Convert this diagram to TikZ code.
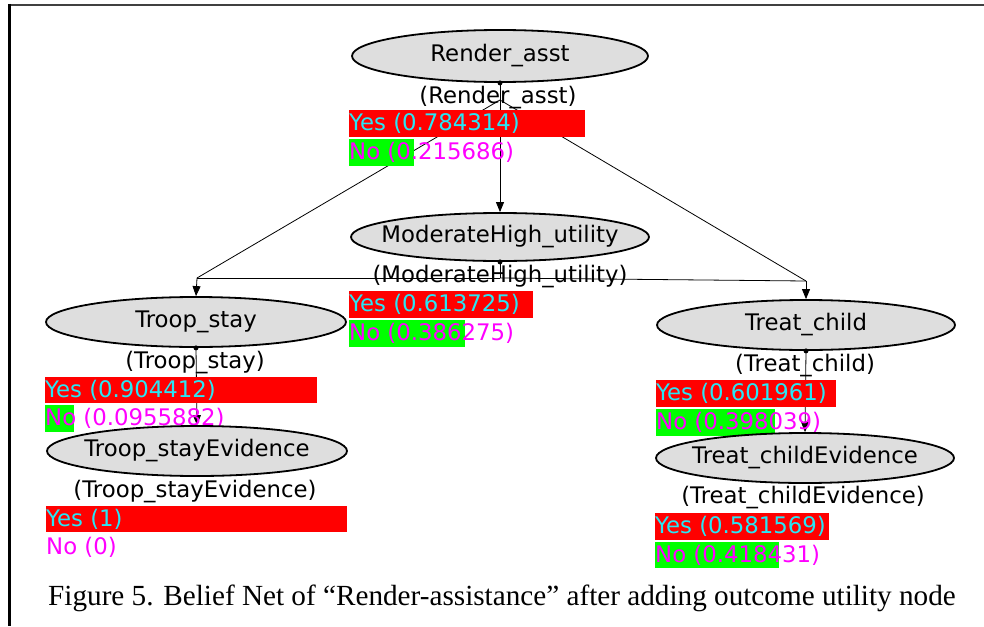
\documentclass[tikz,border=0pt]{standalone}
\usepackage{fontspec}
\usetikzlibrary{shapes.geometric,arrows.meta,backgrounds}
\newfontfamily\dvsans{DejaVu Sans}
\newfontfamily\tnrserif{Liberation Serif}
\newcommand\bnfont{\dvsans\fontsize{22.8}{27}\selectfont}
\newcommand\capfont{\tnrserif\fontsize{29.2}{34}\selectfont}
\definecolor{ellgray}{RGB}{222,222,222}
\definecolor{barred}{RGB}{255,0,0}
\definecolor{bargreen}{RGB}{0,255,0}
\definecolor{cyantxt}{RGB}{40,230,245}
\definecolor{magtxt}{RGB}{255,0,255}
\tikzset{
  bn/.style={ellipse, draw=black, line width=1.8pt, fill=ellgray, minimum width=298pt, minimum height=50pt, inner sep=0pt},
  lab/.style={font=\bnfont, inner sep=0pt},
  yestxt/.style={font=\bnfont, text=cyantxt, anchor=west, inner sep=0pt},
  notxt/.style={font=\bnfont, text=magtxt, anchor=west, inner sep=0pt},
  edge/.style={line width=0.8pt, draw=black},
  arr/.style={edge, -{Triangle[length=10pt,width=8pt]}},
  dotn/.style={circle, fill=black, inner sep=0pt, minimum size=5pt}
}
\begin{document}
\begin{tikzpicture}[x=1pt,y=-1pt]
\useasboundingbox (0,0) rectangle (984,626);
% frame
\draw[line width=2pt, black!75] (9,5) -- (984,5);
\draw[line width=2.5pt, black] (9.5,4) -- (9.5,626);

% Render_asst
\node[bn, minimum width=296pt, minimum height=52pt] (R) at (500,56) {};
\node[lab] (Rt) at (R.center) {Render\_asst};
\node[lab] (Rl) at (498,98) {(Render\_asst)};
\fill[barred] (349,110) rectangle (585,137);
\fill[bargreen] (349,139) rectangle (414,166);
\node[yestxt] (Ryes) at (349,123.5) {Yes (0.784314)};
\node[notxt] (Rno) at (349,152.5) {No (0.215686)};

% ModerateHigh_utility
\node[bn, minimum height=48pt] (M) at (500,237) {};
\node[lab] (Mt) at (M.center) {ModerateHigh\_utility};
\node[lab] (Ml) at (500,277) {(ModerateHigh\_utility)};
\fill[barred] (349,291) rectangle (533,318);
\fill[bargreen] (349,320) rectangle (465,347);
\node[yestxt] (Myes) at (349,304.5) {Yes (0.613725)};
\node[notxt] (Mno) at (349,333.5) {No (0.386275)};

% Troop_stay
\node[bn, minimum width=300pt] (T) at (196,322) {};
\node[lab] (Tt) at (T.center) {Troop\_stay};
\node[lab] (Tl) at (195,363) {(Troop\_stay)};
\fill[barred] (45,377) rectangle (317,403);
\fill[bargreen] (45,405) rectangle (74,432);
\node[yestxt] (Tyes) at (45,390) {Yes (0.904412)};
\node[notxt] (Tno) at (45,418.5) {No (0.0955882)};

% Troop_stayEvidence
\node[bn, minimum width=300pt] (TE) at (197,451) {};
\node[lab] (TEt) at (TE.center) {Troop\_stayEvidence};
\node[lab] (TEl) at (195,492) {(Troop\_stayEvidence)};
\fill[barred] (46,506) rectangle (347,532);
\node[yestxt] (TEyes) at (46,519) {Yes (1)};
\node[notxt] (TEno) at (46,547) {No (0)};

% Treat_child
\node[bn] (C) at (806,325) {};
\node[lab] (Ct) at (C.center) {Treat\_child};
\node[lab] (Cl) at (805,366) {(Treat\_child)};
\fill[barred] (656,380) rectangle (836,407);
\fill[bargreen] (656,409) rectangle (775,436);
\node[yestxt] (Cyes) at (656,393.5) {Yes (0.601961)};
\node[notxt] (Cno) at (656,422.5) {No (0.398039)};

% Treat_childEvidence
\node[bn] (CE) at (805,458) {};
\node[lab] (CEt) at (CE.center) {Treat\_childEvidence};
\node[lab] (CEl) at (803,498) {(Treat\_childEvidence)};
\fill[barred] (655,513) rectangle (829,540);
\fill[bargreen] (655,542) rectangle (779,568);
\node[yestxt] (CEyes) at (655,526.5) {Yes (0.581569)};
\node[notxt] (CEno) at (655,555) {No (0.418431)};

% dots
\node[dotn] (Rd) at (R.south) {};
\node[dotn] (Md) at (M.south) {};
\node[dotn] (Td) at (T.south) {};
\node[dotn] (Cd) at (C.south) {};

% routing points
\coordinate (Rc) at (500,100);
\coordinate (Mc) at (500,278);
\coordinate (jT) at (197,278);
\coordinate (jC) at (806,281);

\begin{pgfonlayer}{background}
\draw[arr] (Rd.center) -- (M.north);
\draw[edge] (Rc) -- (jT);
\draw[edge] (Rc) -- (jC);
\draw[edge] (Md.center) -- (Mc);
\draw[edge] (Mc) -- (jT);
\draw[edge] (Mc) -- (jC);
\draw[arr] (jT) -- (T.north);
\draw[arr] (jC) -- (C.north);
\draw[arr] (Td.center) -- (TE.north);
\draw[arr] (Cd.center) -- (CE.north);
\end{pgfonlayer}

% caption
\node[font=\capfont, anchor=base west, inner sep=0pt] (cap) at (48,605) {Figure 5. Belief Net of “Render-assistance” after adding outcome utility node};
\end{tikzpicture}
\end{document}
